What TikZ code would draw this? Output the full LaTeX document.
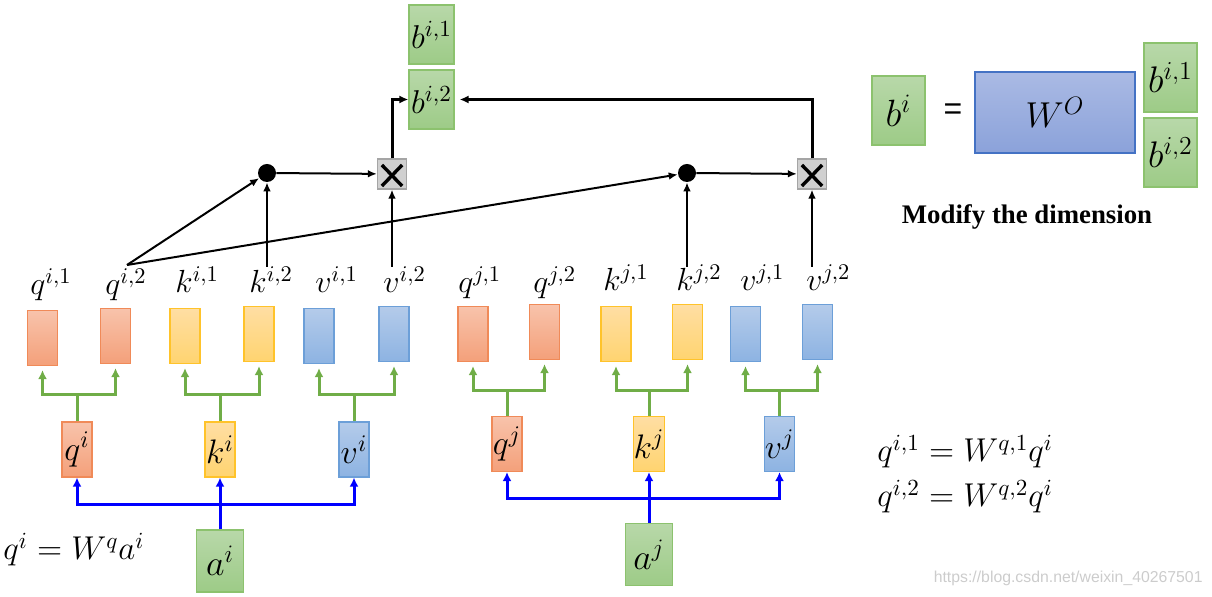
\RequirePackage{fix-cm}
\documentclass[tikz,border=0pt]{standalone}
\usepackage{fontspec}
\newfontfamily\timesb{Liberation Serif}
\newfontfamily\arialf{Liberation Sans}
\usetikzlibrary{arrows.meta}
\definecolor{orT}{HTML}{F8C3AB}\definecolor{orB}{HTML}{F4A07A}\definecolor{orD}{HTML}{F08A58}
\definecolor{yeT}{HTML}{FFDEA3}\definecolor{yeB}{HTML}{FFD470}\definecolor{yeD}{HTML}{FFC32A}
\definecolor{blT}{HTML}{B4CBEA}\definecolor{blB}{HTML}{8DB3E2}\definecolor{blD}{HTML}{6C9FD8}
\definecolor{grT}{HTML}{B8D8A9}\definecolor{grB}{HTML}{9DCB87}\definecolor{grD}{HTML}{8CC26E}
\definecolor{woT}{HTML}{AABAE4}\definecolor{woB}{HTML}{8BA2DA}\definecolor{woD}{HTML}{4472C4}
\definecolor{gline}{HTML}{70AD47}
\definecolor{xfill}{HTML}{D0D0D0}\definecolor{xdraw}{HTML}{A5A5A5}
\begin{document}
\begin{tikzpicture}[x=0.5pt,y=-0.5pt,
  box/.style={draw, inner sep=0pt, line width=0.6pt},
  small/.style={minimum width=15pt, minimum height=27.5pt},
  orbox/.style={box, small, draw=orD, top color=orT, bottom color=orB},
  yebox/.style={box, small, draw=yeD, top color=yeT, bottom color=yeB},
  blbox/.style={box, small, draw=blD, top color=blT, bottom color=blB},
  grbox/.style={box, draw=grD, top color=grT, bottom color=grB},
  boxtxt/.style={font=\fontsize{17}{19}\selectfont},
  lab/.style={anchor=base west, inner sep=0pt, font=\fontsize{16}{18}\selectfont},
  eq/.style={anchor=base west, inner sep=0pt, font=\fontsize{16.5}{18}\selectfont},
  dotn/.style={circle, fill=black, minimum size=9pt, inner sep=0pt},
  crossn/.style={box, draw=xdraw, fill=xfill, minimum width=14.5pt, minimum height=15pt,
    path picture={\draw[draw=black, line width=1.7pt]
      ([shift={(2.2pt,-3pt)}]path picture bounding box.north west) --
      ([shift={(-2.2pt,1.5pt)}]path picture bounding box.south east);
      \draw[draw=black, line width=1.7pt]
      ([shift={(-2.2pt,-3pt)}]path picture bounding box.north east) --
      ([shift={(2.2pt,1.5pt)}]path picture bounding box.south west);}},
  blk/.style={line width=1pt, -{Latex[length=4.5pt,width=3.8pt]}},
  thk/.style={line width=1.5pt, -{Latex[length=4.5pt,width=4pt]}},
  garr/.style={draw=gline, line width=1.5pt, -{Latex[length=4.5pt,width=4.5pt]}, shorten >=2pt},
  gline/.style={draw=gline, line width=1.5pt},
  barr/.style={draw=blue, line width=1.5pt, -{Latex[length=4.5pt,width=4.5pt]}}
]
\useasboundingbox (0,0) rectangle (1212,597);

% ---- top row boxes (i)
\node[orbox] (qi1) at (42.5,338) {};
\node[orbox] (qi2) at (115.5,336) {};
\node[yebox] (ki1) at (185,336) {};
\node[yebox] (ki2) at (259,334) {};
\node[blbox] (vi1) at (319,336) {};
\node[blbox] (vi2) at (394,334) {};
% ---- top row boxes (j)
\node[orbox] (qj1) at (473,334) {};
\node[orbox] (qj2) at (544.5,332) {};
\node[yebox] (kj1) at (616,334) {};
\node[yebox] (kj2) at (687.5,332) {};
\node[blbox] (vj1) at (745.5,334) {};
\node[blbox] (vj2) at (817.5,332) {};

% ---- labels
\node[lab] (lqi1) at (30,295) {$q^{i,1}$};
\node[lab] (lqi2) at (105,295) {$q^{i,2}$};
\node[lab] (lki1) at (175,293) {$k^{i,1}$};
\node[lab] (lki2) at (249,293) {$k^{i,2}$};
\node[lab] (lvi1) at (315,293) {$v^{i,1}$};
\node[lab] (lvi2) at (383,293) {$v^{i,2}$};
\node[lab] (lqj1) at (458,293) {$q^{j,1}$};
\node[lab] (lqj2) at (533,293) {$q^{j,2}$};
\node[lab] (lkj1) at (603,291) {$k^{j,1}$};
\node[lab] (lkj2) at (676,291) {$k^{j,2}$};
\node[lab] (lvj1) at (740,291) {$v^{j,1}$};
\node[lab] (lvj2) at (806,291) {$v^{j,2}$};

% ---- middle boxes
\node[orbox, boxtxt] (qi) at (77,449.5) {$q^i$};
\node[yebox, boxtxt] (ki) at (220,449.5) {$k^i$};
\node[blbox, boxtxt] (vi) at (354,449.5) {$v^i$};
\node[orbox, boxtxt] (qj) at (507,444) {$q^j$};
\node[yebox, boxtxt] (kj) at (649,444) {$k^j$};
\node[blbox, boxtxt] (vj) at (779.5,444) {$v^j$};

% ---- inputs
\node[grbox, minimum width=23.5pt, minimum height=31pt, font=\fontsize{18}{20}\selectfont] (ai) at (220,561) {$a^i$};
\node[grbox, minimum width=23.5pt, minimum height=31pt, font=\fontsize{18}{20}\selectfont] (aj) at (649,554.5) {$a^j$};

% ---- outputs
\node[grbox, minimum width=22.5pt, minimum height=29.5pt, font=\fontsize{16.5}{18}\selectfont] (b1) at (431.5,34.5) {$b^{i,1}$};
\node[grbox, minimum width=22.5pt, minimum height=29.5pt, font=\fontsize{16.5}{18}\selectfont] (b2) at (431.5,99.5) {$b^{i,2}$};

% ---- dots and crosses
\node[dotn] (d1) at (267,173) {};
\node[dotn] (d2) at (687,173) {};
\node[crossn] (c1) at (392,174) {};
\node[crossn] (c2) at (812,174) {};

% ---- start points on the labels
\coordinate (sq) at (127,265);
\coordinate (sk1) at (267,267);
\coordinate (sv1) at (392,267);
\coordinate (sk2) at (687,267);
\coordinate (sv2) at (812,267);

% ---- black connectors
\draw[blk] (sq) -- (d1);
\draw[blk] (sq) -- (d2);
\draw[blk] (sk1) -- (d1);
\draw[blk] (sv1) -- (c1);
\draw[blk] (d1) -- (c1);
\draw[blk] (sk2) -- (d2);
\draw[blk] (sv2) -- (c2);
\draw[blk] (d2) -- (c2);
\draw[thk] (c1.north) |- (b2.west);
\draw[thk, shorten >=2.5pt] (c2.north) |- (b2.east);

% ---- green splits
\coordinate (gqi) at (77,395);
\coordinate (gki) at (220,395);
\coordinate (gvi) at (354,395);
\coordinate (gqj) at (507,391);
\coordinate (gkj) at (649,391);
\coordinate (gvj) at (779.5,391);
\draw[gline] (qi.north) -- (gqi);
\draw[garr] (gqi) -| (qi1.south);
\draw[garr] (gqi) -| (qi2.south);
\draw[gline] (ki.north) -- (gki);
\draw[garr] (gki) -| (ki1.south);
\draw[garr] (gki) -| (ki2.south);
\draw[gline] (vi.north) -- (gvi);
\draw[garr] (gvi) -| (vi1.south);
\draw[garr] (gvi) -| (vi2.south);
\draw[gline] (qj.north) -- (gqj);
\draw[garr] (gqj) -| (qj1.south);
\draw[garr] (gqj) -| (qj2.south);
\draw[gline] (kj.north) -- (gkj);
\draw[garr] (gkj) -| (kj1.south);
\draw[garr] (gkj) -| (kj2.south);
\draw[gline] (vj.north) -- (gvj);
\draw[garr] (gvj) -| (vj1.south);
\draw[garr] (gvj) -| (vj2.south);

% ---- blue distribution
\coordinate (bbi) at (220,505);
\coordinate (bbj) at (649,499);
\draw[barr] (ai.north) -- (ki.south);
\draw[barr] (bbi) -| (qi.south);
\draw[barr] (bbi) -| (vi.south);
\draw[barr] (aj.north) -- (kj.south);
\draw[barr] (bbj) -| (qj.south);
\draw[barr] (bbj) -| (vj.south);

% ---- equations
\node[eq] (eqa) at (3,560) {$q^i = W^q a^i$};
\node[eq] (eq1) at (877,462) {$q^{i,1} = W^{q,1} q^i$};
\node[eq] (eq2) at (877,507) {$q^{i,2} = W^{q,2} q^i$};

% ---- right block
\node[grbox, minimum width=26.5pt, minimum height=34.5pt, font=\fontsize{19}{21}\selectfont] (bi) at (898.5,110.5) {$b^i$};
\node[inner sep=0pt, font=\arialf\fontsize{16}{18}\selectfont] (eqs) at (953,112) {=};
\node[box, draw=woD, top color=woT, bottom color=woB, minimum width=80pt, minimum height=40.5pt, font=\fontsize{18}{21}\selectfont] (wo) at (1055,112.5) {$W^O$};
\node[grbox, minimum width=26.5pt, minimum height=34.5pt, font=\fontsize{18.5}{21}\selectfont] (br1) at (1170.5,77.5) {$b^{i,1}$};
\node[grbox, minimum width=26.5pt, minimum height=34.5pt, font=\fontsize{18.5}{21}\selectfont] (br2) at (1170.5,152.5) {$b^{i,2}$};
\node[anchor=base, inner sep=0pt, font=\timesb\bfseries\fontsize{13.4}{15}\selectfont] (mod) at (1027,224) {Modify the dimension};

% ---- watermark
\node[anchor=base east, inner sep=0pt, text=gray!40, font=\arialf\fontsize{7.9}{9}\selectfont] (wm) at (1203,583) {https://blog.csdn.net/weixin\_40267501};
\end{tikzpicture}
\end{document}
